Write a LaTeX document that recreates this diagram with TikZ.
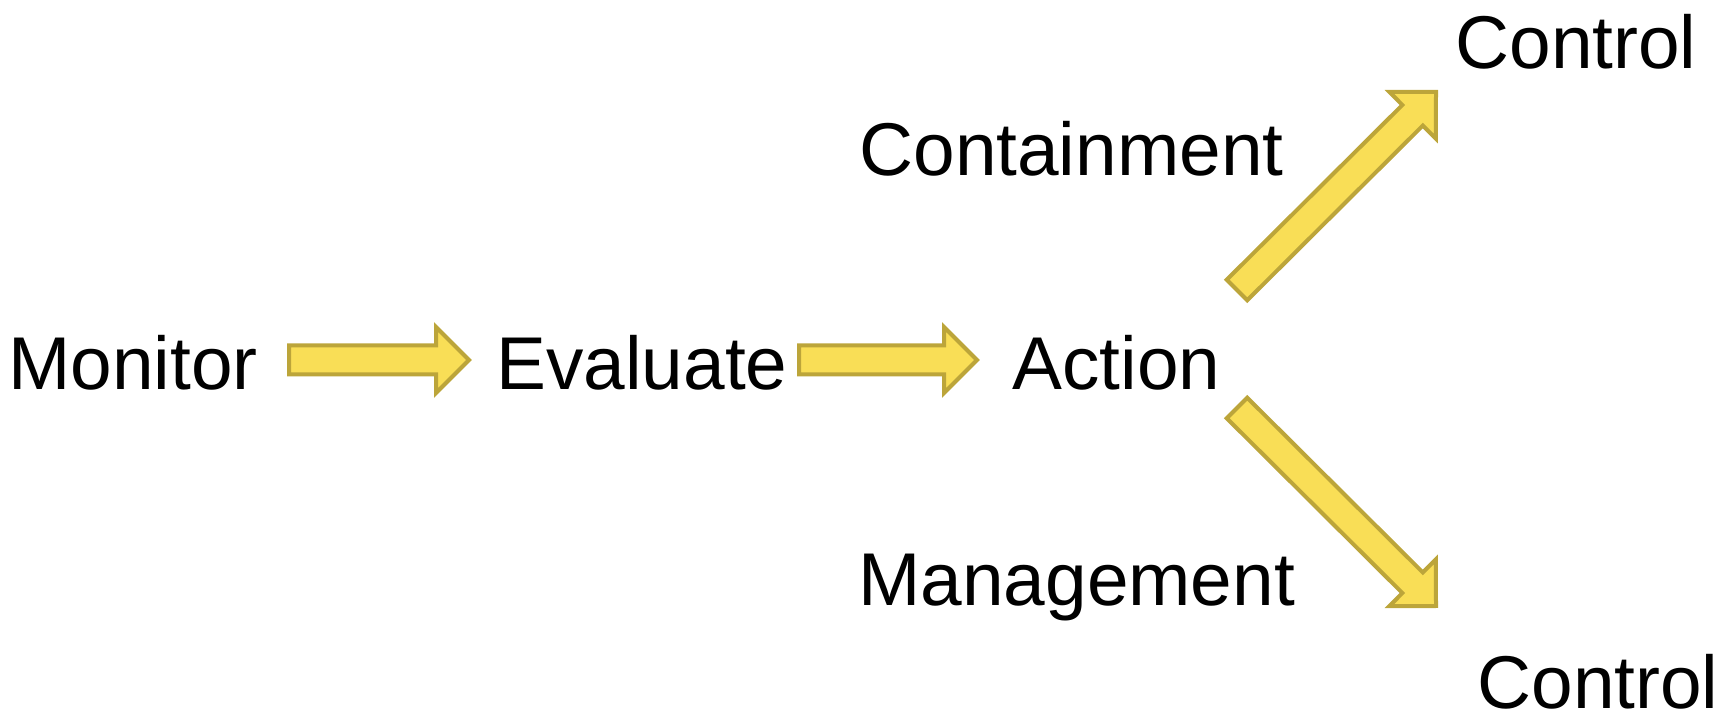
\documentclass[tikz,border=0pt]{standalone}
\usepackage{fontspec}
\setmainfont{Liberation Sans}
\usetikzlibrary{calc}
\definecolor{arrowfill}{RGB}{249,222,86}
\definecolor{arrowedge}{RGB}{188,165,58}
\tikzset{
	word/.style = {inner sep=0pt, anchor=base west, font=\fontsize{37.4pt}{44pt}\selectfont},
	arrowbody/.style = {draw=arrowedge, fill=arrowfill, line width=2pt, line join=miter}
}
% block arrow from tail #1 to tip #2
\newcommand{\blockarrow}[2]{%
	\coordinate (hb) at ($(#2)!16.5pt!(#1)$);
	\draw[arrowbody] ($(#1)!7.25pt!90:(#2)$) -- ($(hb)!7.25pt!90:(#2)$) -- ($(hb)!16.5pt!90:(#2)$) -- (#2)
		-- ($(hb)!16.5pt!-90:(#2)$) -- ($(hb)!7.25pt!-90:(#2)$) -- ($(#1)!7.25pt!-90:(#2)$) -- cycle;
}
\begin{document}
\begin{tikzpicture}[x=0.5pt, y=-0.5pt]
		\useasboundingbox (0,0) rectangle (1720,721);
		\node[word] (mon) at (8,390) {Monitor};
		\node[word] (eva) at (496,390) {Evaluate};
		\node[word] (act) at (1012,390) {Action};
		\node[word] (cont) at (859,176) {Containment};
		\node[word] (mgmt) at (858,605) {Management};
		\node[word] (ctrlup) at (1455,69) {Control};
		\node[word] (ctrldown) at (1477,708) {Control};
		% arrow ends
		\coordinate (monout) at (289,360);
		\coordinate (evain) at (469,360);
		\coordinate (evaout) at (799,360);
		\coordinate (actin) at (977,360);
		\coordinate (actup) at (1237,290);
		\coordinate (ctrlupin) at (1436,92);
		\coordinate (actdown) at (1237,408);
		\coordinate (ctrldownin) at (1436,606);
		\blockarrow{monout}{evain}
		\blockarrow{evaout}{actin}
		\blockarrow{actup}{ctrlupin}
		\blockarrow{actdown}{ctrldownin}
	\end{tikzpicture}
\end{document}
